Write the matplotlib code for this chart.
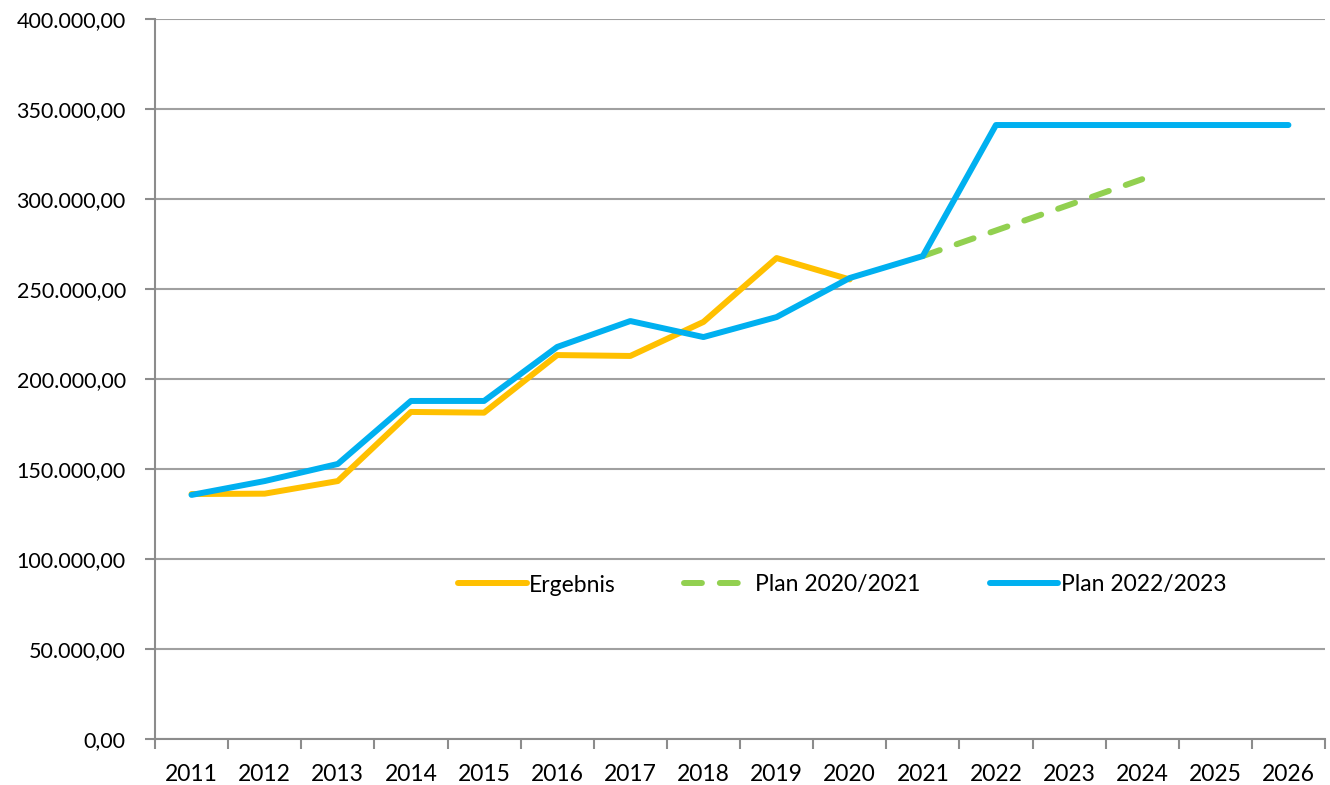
import matplotlib.pyplot as plt
from matplotlib.ticker import FuncFormatter, MultipleLocator
import numpy as np

plt.rcParams['font.family'] = ['Lato', 'DejaVu Sans']

years = ['2011', '2012', '2013', '2014', '2015', '2016', '2017', '2018',
         '2019', '2020', '2021', '2022', '2023', '2024', '2025', '2026']

ergebnis = [136100, 136300, 143300, 181700, 181300, 213300, 212800, 231700,
            267200, 255300]
plan_2021 = [268300, 282500, 296700, 311000]  # 2021..2024
plan_2023 = [135600, 143300, 152800, 187800, 187800, 217800, 232200, 223300,
             234400, 256100, 268300, 341100, 341100, 341100, 341100, 341100]

x = np.arange(len(years))

fig = plt.figure(figsize=(13.3, 7.85), dpi=100)
ax = fig.add_axes([155/1330, 1-739/785, 1170/1330, 720/785])

ax.plot(x[:len(ergebnis)], ergebnis, color='#FFC000', lw=4.3,
        solid_capstyle='round', solid_joinstyle='round', label='Ergebnis')
ax.plot(x[10:10+len(plan_2021)], plan_2021, color='#92D050', lw=4.3,
        dashes=(3, 3), dash_capstyle='round', label='Plan 2020/2021')
ax.plot(x, plan_2023, color='#00B0F0', lw=4.3,
        solid_capstyle='round', solid_joinstyle='round', label='Plan 2022/2023')

ax.set_xlim(-0.5, len(years) - 0.5)
ax.set_ylim(0, 400000)
ax.yaxis.set_major_locator(MultipleLocator(50000))
ax.yaxis.set_major_formatter(FuncFormatter(
    lambda v, p: f'{v:,.2f}'.replace(',', 'X').replace('.', ',').replace('X', '.')))
ax.set_xticks(x)
ax.set_xticklabels(years)
ax.set_xticks(np.arange(-0.5, len(years)), minor=True)
ax.tick_params(axis='x', which='major', length=0, labelsize=16.5, pad=18)
ax.tick_params(axis='x', which='minor', length=7, width=1.5, color='#8c8c8c')
ax.tick_params(axis='y', length=7, width=1.5, color='#8c8c8c', labelsize=15.5, pad=14)

ax.grid(axis='y', color='#a0a0a0', lw=1.5)
ax.set_axisbelow(True)
for s in ['top', 'right']:
    ax.spines[s].set_visible(False)
ax.spines['left'].set_color('#8c8c8c')
ax.spines['left'].set_linewidth(1.5)
ax.spines['bottom'].set_color('#8c8c8c')
ax.spines['bottom'].set_linewidth(1.5)

ax.legend(loc='center', bbox_to_anchor=(842/1330, 1-585/785),
          bbox_transform=fig.transFigure, ncol=3, frameon=False,
          fontsize=16.5, handlelength=3.0, handletextpad=0.1,
          columnspacing=3.0)

plt.savefig('out.png', dpi=100)
